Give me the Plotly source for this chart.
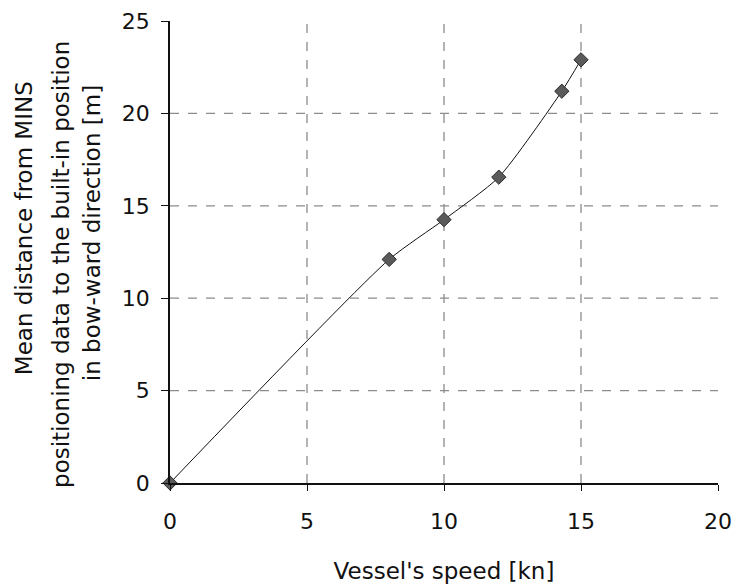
import plotly.graph_objects as go

speed = [0, 8, 10, 12, 14.3, 15]
distance = [0, 12.1, 14.25, 16.55, 21.2, 22.9]

x_ticks = [0, 5, 10, 15, 20]
y_ticks = [0, 5, 10, 15, 20, 25]
x_grid = [5, 10, 15]
y_grid = [5, 10, 15, 20]

x_title = "Vessel's speed [kn]"
y_title_lines = [
    "Mean distance from MINS",
    "positioning data to the built-in position",
    "in bow-ward direction [m]",
]

font = "DejaVu Sans, Verdana, sans-serif"

fig = go.Figure()
fig.add_trace(go.Scatter(
    x=speed, y=distance, mode="lines+markers",
    line=dict(color="#111111", width=1, shape="spline", smoothing=0.6),
    marker=dict(symbol="diamond", size=11, color="#5a5a5a",
                line=dict(color="#2a2a2a", width=1)),
    showlegend=False, cliponaxis=False,
))

shapes = []
for gx in x_grid:
    shapes.append(dict(type="line", xref="x", yref="y", x0=gx, x1=gx, y0=0, y1=25,
                       line=dict(color="#8c8c8c", width=1.3, dash="dash"), layer="below"))
for gy in y_grid:
    shapes.append(dict(type="line", xref="x", yref="y", x0=0, x1=20, y0=gy, y1=gy,
                       line=dict(color="#8c8c8c", width=1.3, dash="dash"), layer="below"))

# y-title lines placed individually (paper coords), as in the reference layout
title_pos = [(-0.266, 0.552), (-0.199, 0.474), (-0.142, 0.541)]
annotations = []
for txt, (ax, ay) in zip(y_title_lines, title_pos):
    annotations.append(dict(text=txt, xref="paper", yref="paper", x=ax, y=ay,
                            xanchor="center", yanchor="middle", textangle=-90,
                            showarrow=False, font=dict(size=23, family=font, color="#111111")))

fig.update_layout(
    width=733, height=587,
    margin=dict(l=170, r=15, t=21, b=104, autoexpand=False),
    plot_bgcolor="white", paper_bgcolor="white",
    font=dict(family=font, size=22, color="#111111"),
    shapes=shapes,
    annotations=annotations,
    xaxis=dict(
        range=[0, 20], tickvals=x_ticks, showgrid=False, zeroline=False,
        showline=True, linecolor="#111111", linewidth=1.5,
        ticks="outside", ticklen=6, tickcolor="#111111",
        ticklabelstandoff=12, automargin=False,
        title=dict(text=x_title, font=dict(size=23), standoff=30),
    ),
    yaxis=dict(
        range=[0, 25], tickvals=y_ticks, showgrid=False, zeroline=False,
        showline=True, linecolor="#111111", linewidth=1.5,
        ticks="outside", ticklen=7, tickcolor="#111111",
        ticklabelstandoff=7, automargin=False,
    ),
)

fig.write_html("out.html", config={"displayModeBar": False},
               post_script="document.body.style.margin='0';")
